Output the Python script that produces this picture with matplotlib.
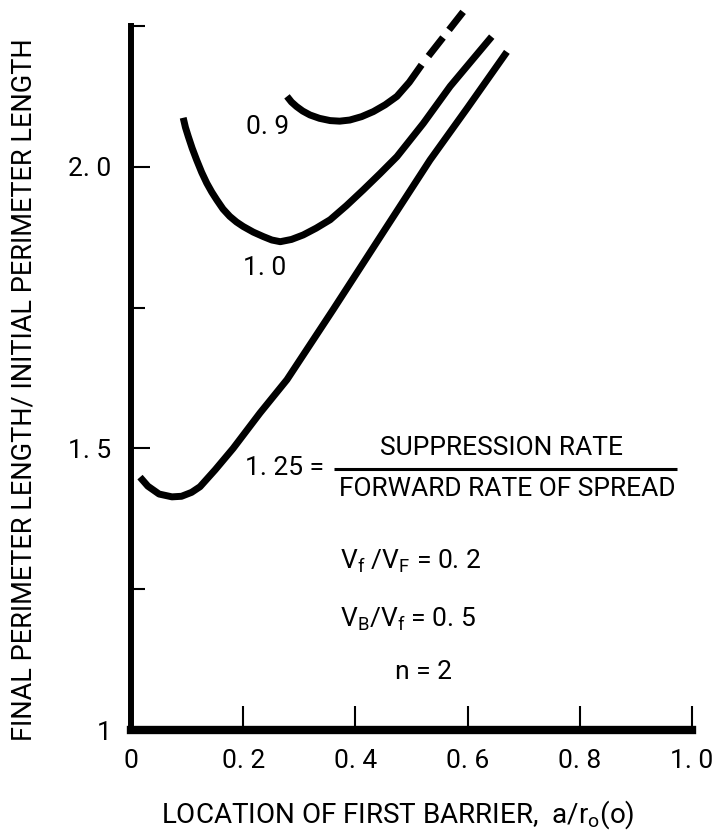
import matplotlib
matplotlib.use("Agg")
import matplotlib.pyplot as plt

plt.rcParams['font.family'] = ['Roboto', 'DejaVu Sans']
plt.rcParams['mathtext.fontset'] = 'custom'
plt.rcParams['mathtext.rm'] = 'Roboto'
plt.rcParams['mathtext.it'] = 'Roboto'
plt.rcParams['lines.scale_dashes'] = False

# curve for ratio 1.25
x_125 = [0.016, 0.03, 0.05, 0.073, 0.09, 0.108, 0.123, 0.15, 0.182, 0.23, 0.278, 0.36, 0.449, 0.533, 0.60, 0.67]
y_125 = [1.449, 1.433, 1.419, 1.414, 1.415, 1.422, 1.432, 1.462, 1.500, 1.563, 1.622, 1.746, 1.883, 2.012, 2.105, 2.204]

# curve for ratio 1.0
x_10 = [0.093, 0.097, 0.102, 0.109, 0.117, 0.126, 0.135, 0.144, 0.153, 0.164, 0.176, 0.188, 0.200, 0.218,
        0.236, 0.251, 0.266, 0.286, 0.307, 0.330, 0.355, 0.384, 0.414, 0.444, 0.474, 0.521, 0.569, 0.643]
y_10 = [2.087, 2.070, 2.054, 2.033, 2.012, 1.990, 1.971, 1.955, 1.941, 1.925, 1.912, 1.902, 1.894, 1.884,
        1.876, 1.870, 1.867, 1.871, 1.879, 1.891, 1.906, 1.931, 1.959, 1.988, 2.018, 2.077, 2.143, 2.231]

# curve for ratio 0.9 (solid part, then dashed extension)
x_09 = [0.278, 0.286, 0.295, 0.306, 0.319, 0.336, 0.355, 0.372, 0.390, 0.411, 0.432, 0.453, 0.474, 0.496, 0.518]
y_09 = [2.125, 2.115, 2.107, 2.099, 2.092, 2.086, 2.082, 2.081, 2.083, 2.089, 2.098, 2.110, 2.125, 2.150, 2.181]
x_09_ext = [0.518, 0.592]
y_09_ext = [2.181, 2.275]

xticks = [0, 0.2, 0.4, 0.6, 0.8, 1.0]
xtick_labels = ["0", "0. 2", "0. 4", "0. 6", "0. 8", "1. 0"]
yticks = [1.0, 1.5, 2.0]
ytick_labels = ["1", "1. 5", "2. 0"]
yminor = [1.25, 1.75, 2.25]

fig = plt.figure(figsize=(7.14, 8.35), dpi=100)
ax = fig.add_axes([0.1835, 0.1257, 0.7857, 0.8432])

lw = 5
for xs, ys in [(x_125, y_125), (x_10, y_10), (x_09, y_09)]:
    ax.plot(xs, ys, color="black", lw=lw, solid_capstyle="butt", solid_joinstyle="round", clip_on=False)
ax.plot(x_09_ext, y_09_ext, color="black", lw=lw, dash_capstyle="butt",
        linestyle=(42, (17, 7, 18, 8)), clip_on=False)

ax.set_xlim(0, 1.0)
ax.set_ylim(1.0, 2.25)

for side in ["top", "right"]:
    ax.spines[side].set_visible(False)
ax.spines["left"].set_linewidth(4.3)
ax.spines["bottom"].set_linewidth(6)

ax.set_xticks(xticks)
ax.set_xticklabels(xtick_labels)
ax.set_yticks(yticks)
ax.set_yticklabels(ytick_labels)
ax.set_yticks(yminor, minor=True)
ax.tick_params(axis="x", direction="in", length=17, width=1.5, pad=14, labelsize=19)
ax.tick_params(axis="y", which="major", direction="in", length=14, width=1.5, pad=14, labelsize=19)
ax.tick_params(axis="y", which="minor", direction="in", length=10, width=1.5)

fs = 19
# curve labels
ax.text(0.244, 2.071, "0. 9", fontsize=fs, ha="center", va="center")
ax.text(0.239, 1.821, "1. 0", fontsize=fs, ha="center", va="center")
ax.text(0.203, 1.465, "1. 25 =", fontsize=fs, ha="left", va="center")

# fraction
ax.plot([0.362, 0.973], [1.464, 1.464], color="black", lw=2.2, solid_capstyle="butt")
ax.text(0.661, 1.501, "SUPPRESSION RATE", fontsize=fs, ha="center", va="center")
ax.text(0.670, 1.428, "FORWARD RATE OF SPREAD", fontsize=fs, ha="center", va="center")

# parameters
ax.text(0.3725, 1.30, r"V$_\mathregular{f}$ /V$_\mathregular{F}$ = 0. 2", fontsize=fs, ha="left", va="center")
ax.text(0.3725, 1.197, r"V$_\mathregular{B}$/V$_\mathregular{f}$ = 0. 5", fontsize=fs, ha="left", va="center")
ax.text(0.522, 1.103, "n = 2", fontsize=fs, ha="center", va="center")

fig.text(0.034, 0.533, "FINAL PERIMETER LENGTH/ INITIAL PERIMETER LENGTH",
         rotation=90, fontsize=19.5, ha="center", va="center")
fig.text(398 / 714, 1 - 815 / 835, r"LOCATION OF FIRST BARRIER,  a/r$_\mathregular{o}$(o)",
         fontsize=20, ha="center", va="center")

fig.savefig("out.png", dpi=100)
